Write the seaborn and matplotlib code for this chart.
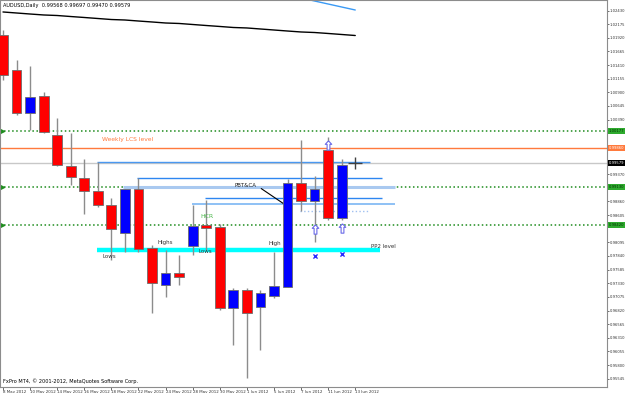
import matplotlib
matplotlib.use("Agg")
import matplotlib.pyplot as plt
import seaborn as sns
import pandas as pd

# ---------------- data ----------------
dates = ["8 May", "9 May", "10 May", "11 May", "14 May", "15 May", "16 May", "17 May",
         "18 May", "21 May", "22 May", "23 May", "24 May", "25 May", "28 May", "29 May",
         "30 May", "31 May", "1 Jun", "4 Jun", "5 Jun", "6 Jun", "7 Jun", "8 Jun",
         "11 Jun", "12 Jun", "13 Jun"]
opens = [1.01973, 1.01318, 1.00514, 1.00832, 1.00103, 0.99523, 0.99299, 0.99055,
         0.98794, 0.98270, 0.99093, 0.97990, 0.97298, 0.97522, 0.98027, 0.98420,
         0.98382, 0.96868, 0.97204, 0.96886, 0.97092, 0.97260, 0.99205, 0.98868,
         0.99822, 0.98550, 0.99568]
highs = [1.02066, 1.01505, 1.01393, 1.00907, 1.00421, 1.00140, 0.99654, 0.99598,
         0.98925, 0.99093, 0.99299, 0.98046, 0.97952, 0.97859, 0.98794, 0.98887,
         0.98438, 0.97242, 0.97242, 0.97204, 0.97915, 0.99280, 1.00009, 0.99336,
         1.00065, 0.99654, 0.99697]
lows = [1.01131, 1.00477, 1.00196, 1.00140, 0.99523, 0.99168, 0.98625, 0.98756,
        0.97765, 0.97915, 0.97915, 0.96774, 0.97073, 0.97298, 0.97859, 0.97952,
        0.96830, 0.96176, 0.95559, 0.96082, 0.97055, 0.97260, 0.98681, 0.98102,
        0.98513, 0.98513, 0.99470]
closes = [1.01225, 1.00514, 1.00813, 1.00159, 0.99542, 0.99317, 0.99055, 0.98794,
          0.98345, 0.99093, 0.97971, 0.97335, 0.97522, 0.97447, 0.98401, 0.98364,
          0.96868, 0.97204, 0.96774, 0.97148, 0.97279, 0.99205, 0.98868, 0.99093,
          0.98550, 0.99542, 0.99579]
ma_slow = [1.02403, 1.02384, 1.02365, 1.02347, 1.02337, 1.02318, 1.02300, 1.02281,
           1.02262, 1.02253, 1.02234, 1.02216, 1.02197, 1.02188, 1.02169, 1.02150,
           1.02132, 1.02113, 1.02104, 1.02085, 1.02066, 1.02047, 1.02029, 1.02019,
           1.02001, 1.01982, 1.01963]
ma_fast_bars = [21, 22, 23, 24, 25, 26]
ma_fast = [1.02721, 1.02665, 1.02608, 1.02552, 1.02496, 1.02440]

date_tick_bars = [0, 2, 4, 6, 8, 10, 12, 14, 16, 18, 20, 22, 24, 26]
date_tick_labels = ["8 May 2012", "10 May 2012", "14 May 2012", "16 May 2012", "18 May 2012",
                    "22 May 2012", "24 May 2012", "28 May 2012", "30 May 2012", "1 Jun 2012",
                    "5 Jun 2012", "7 Jun 2012", "11 Jun 2012", "13 Jun 2012"]
price_ticks = ["1.02430", "1.02175", "1.01920", "1.01665", "1.01410", "1.01155", "1.00900",
               "1.00645", "1.00390", "0.99370", "0.98860", "0.98605", "0.98095", "0.97840",
               "0.97585", "0.97330", "0.97075", "0.96820", "0.96565", "0.96310", "0.96055",
               "0.95800", "0.95545"]

# full-width levels: price, colour, style, label bg
full_levels = [1.00177, 0.99860, 0.99579, 0.99130, 0.98420]
full_colors = ["#1E8C1E", "#FF7A3D", "#C8C8C8", "#1E8C1E", "#1E8C1E"]
full_styles = [":", "-", "-", ":", ":"]
full_label_bg = ["#2EAA2E", "#FF7A3D", "#000000", "#2EAA2E", "#2EAA2E"]
green_levels = [1.00177, 0.99130, 0.98420]

# segment levels: price, start bar, end bar
seg_prices = [0.99598, 0.99299, 0.99130, 0.98925, 0.98812, 0.98681, 0.97952]
seg_start = [6.94, 9.89, 8.86, 14.9, 13.95, 21.9, 6.94]
seg_end = [27.08, 27.97, 28.93, 27.97, 28.93, 26.94, 27.82]
seg_colors = ["#4A98F0", "#2E86F0", "#A9C9F0", "#2E86F0", "#7BB6F4", "#A0C0F0", "#00FFFF"]
seg_widths = [1.0, 1.0, 2.2, 1.0, 1.2, 1.0, 3.2]
seg_styles = ["-", "-", "-", "-", "-", ":", "-"]

x_marks_bars = [23, 25]
x_marks_prices = [0.97840, 0.97877]
up_bars = [23, 25, 24]
up_prices = [0.98345, 0.98364, 0.99916]

# ---------------- figure ----------------
sns.set_style("white")
plt.rcParams["font.family"] = ["DejaVu Sans"]

fig = plt.figure(figsize=(6.25, 3.93), dpi=100)
ax = fig.add_axes([0.0, 0.0153, 607 / 625, 0.9847])

xlim = (-0.22, 44.58)
ylim = (0.9539, 1.02627)

# levels
for p, c, s in zip(full_levels, full_colors, full_styles):
    ax.axhline(p, color=c, ls=s, lw=1.0 if s == "-" else 1.1, zorder=1)
for p, a, b, c, w, s in zip(seg_prices, seg_start, seg_end, seg_colors, seg_widths, seg_styles):
    ax.hlines(p, a, b, colors=c, linewidth=w, linestyles=s, zorder=1)
ax.scatter([-0.05] * len(green_levels), green_levels, marker=">", s=8, color="#1E8C1E",
           zorder=2, clip_on=False)

# moving averages via seaborn
df_slow = pd.DataFrame({"bar": list(range(len(ma_slow))), "ma": ma_slow})
df_fast = pd.DataFrame({"bar": ma_fast_bars, "ma": ma_fast})
sns.lineplot(data=df_slow, x="bar", y="ma", color="black", lw=1.0, ax=ax, zorder=2)
sns.lineplot(data=df_fast, x="bar", y="ma", color="#3A9AF5", lw=1.0, ax=ax, zorder=2)

# candles
bw = 0.72
for i, (o, h, l, c) in enumerate(zip(opens, highs, lows, closes)):
    last = i == len(opens) - 1
    ax.vlines(i, l, h, colors="#404040" if last else "#8C8C8C", linewidth=1.0, zorder=3)
    if last:
        ax.hlines(c, i - 0.5, i + 0.5, colors="#404040", linewidth=1.0, zorder=4)
        continue
    col = "#0000FF" if c >= o else "#FF0000"
    ax.bar(i, abs(c - o), bottom=min(o, c), width=bw, color=col,
           edgecolor="#6E6E6E", linewidth=0.6, zorder=4)

# markers
ax.scatter(x_marks_bars, x_marks_prices, marker="x", s=9, color="#2A2AFF", linewidths=1.0, zorder=5)
arrow_verts = [(0, 1), (-0.7, 0.25), (-0.3, 0.25), (-0.3, -1), (0.3, -1), (0.3, 0.25),
               (0.7, 0.25), (0, 1)]
ax.scatter(up_bars, up_prices, marker=arrow_verts, s=45, facecolor="white",
           edgecolor="#6A6AE8", linewidths=0.8, zorder=5)

# annotations
fs = 4.0
ax.text(7.3, 1.00009, "Weekly LCS level", color="#FF7A3D", fontsize=4.3, va="center", ha="left")
ax.text(7.38, 0.97821, "Lows", color="#333333", fontsize=fs, va="center", ha="left")
ax.text(11.37, 0.98083, "Highs", color="#333333", fontsize=fs, va="center", ha="left")
ax.text(14.46, 0.97933, "Lows", color="#333333", fontsize=fs, va="center", ha="left")
ax.text(14.54, 0.98569, "HCR", color="#4CB84C", fontsize=4.4, va="center", ha="left")
ax.text(19.56, 0.98064, "High", color="#333333", fontsize=fs, va="center", ha="left")
ax.text(17.12, 0.99149, "PBT&CA", color="#222222", fontsize=fs, va="center", ha="left")
ax.annotate("", xy=(20.96, 0.98775), xytext=(18.89, 0.99130),
            arrowprops=dict(arrowstyle="-", color="black", lw=0.8))
ax.text(27.16, 0.98008, "PP2 level", color="#333333", fontsize=fs, va="center", ha="left")

ax.text(0.005, 0.992, "AUDUSD,Daily  0.99568 0.99697 0.99470 0.99579", transform=ax.transAxes,
        fontsize=3.6, va="top", ha="left", color="black")
ax.text(0.005, 0.008, "FxPro MT4, \u00a9 2001-2012, MetaQuotes Software Corp.", transform=ax.transAxes,
        fontsize=3.6, va="bottom", ha="left", color="black")

# axis styling
ax.set_xlim(*xlim)
ax.set_ylim(*ylim)
ax.yaxis.tick_right()
ax.set_yticks([float(t) for t in price_ticks])
ax.set_yticklabels(price_ticks)
ax.set_xticks(date_tick_bars)
ax.set_xticklabels(date_tick_labels, ha="left")
ax.tick_params(axis="y", labelsize=2.7, length=1.5, width=0.5, pad=0.6, colors="#333333", right=True)
ax.tick_params(axis="x", labelsize=2.9, length=2, width=0.5, pad=0.3, colors="#333333", bottom=True)
ax.set_xlabel("")
ax.set_ylabel("")
for s in ax.spines.values():
    s.set_color("#8C8C8C")
    s.set_linewidth(0.8)

# price labels on right axis
for p, bg in zip(full_levels, full_label_bg):
    ax.annotate(f"{p:.5f}", xy=(1.0, p), xycoords=("axes fraction", "data"),
                xytext=(1.2, 0), textcoords="offset points", fontsize=2.7,
                color="white" if bg != "#2EAA2E" else "#003300", va="center", ha="left",
                bbox=dict(boxstyle="square,pad=0.2", fc=bg, ec="none"), annotation_clip=False)

fig.savefig("out.png", dpi=100)
